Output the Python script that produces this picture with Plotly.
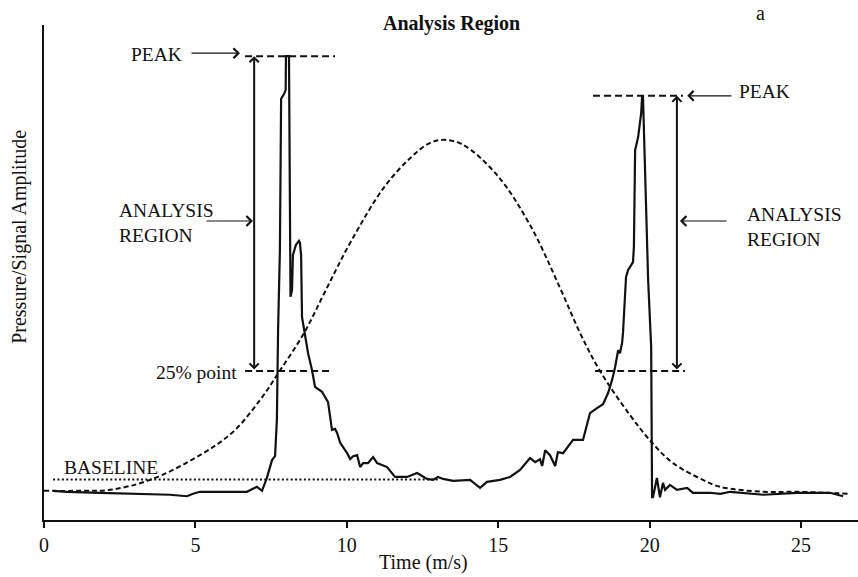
import plotly.graph_objects as go

# ---------------- data ----------------
signal_t = [0.30, 0.76, 1.85, 2.94, 4.16, 4.72, 4.92, 5.15, 6.70, 7.03, 7.20, 7.36, 7.53, 7.63,
            7.69, 7.73, 7.79, 7.83, 7.93, 7.98, 7.99, 8.09, 8.12, 8.14, 8.19, 8.22, 8.32, 8.42,
            8.45, 8.49, 8.52, 8.62, 8.72, 8.85, 8.95, 9.18, 9.38, 9.51, 9.61, 9.68, 9.78, 10.01,
            10.11, 10.21, 10.34, 10.44, 10.54, 10.70, 10.87, 11.00, 11.33, 11.59, 11.99, 12.32,
            12.65, 12.85, 13.01, 13.18, 13.51, 14.07, 14.40, 14.63, 15.06, 15.39, 15.72, 16.05,
            16.22, 16.38, 16.45, 16.55, 16.71, 16.88, 16.97, 17.14, 17.47, 17.80, 18.03, 18.26,
            18.46, 18.63, 18.76, 18.86, 18.96, 19.02, 19.09, 19.12, 19.19, 19.22, 19.29, 19.45,
            19.48, 19.52, 19.62, 19.72, 19.75, 19.78, 19.95, 20.05, 20.08, 20.11, 20.24, 20.34,
            20.44, 20.51, 20.67, 20.90, 21.24, 21.43, 21.99, 22.33, 22.66, 23.75, 24.87, 25.96,
            26.39]
signal_a = [5.9, 5.7, 5.5, 5.3, 5.1, 4.8, 5.3, 5.7, 5.7, 6.7, 5.9, 8.5, 12.1, 12.9,
            20.2, 38.4, 54.5, 85.1, 86.1, 86.9, 93.7, 93.7, 52.5, 45.1, 46.5, 53.5, 55.6, 56.4,
            56.0, 53.5, 41.0, 37.0, 33.7, 30.3, 26.9, 25.9, 23.8, 18.2, 18.4, 17.6, 15.6, 13.5,
            12.3, 12.9, 13.1, 10.7, 11.5, 11.5, 12.7, 11.5, 10.7, 8.7, 8.7, 9.5,
            8.3, 8.1, 8.7, 8.3, 7.9, 8.1, 6.5, 7.7, 8.1, 8.7, 10.1, 12.5,
            11.7, 12.3, 10.9, 14.1, 13.1, 10.9, 13.7, 13.5, 16.2, 16.2, 21.6, 22.6,
            23.4, 25.7, 28.3, 30.9, 34.3, 33.7, 35.8, 37.8, 45.1, 49.1, 50.5, 52.1,
            55.2, 74.7, 77.4, 82.2, 85.5, 85.5, 48.5, 34.9, 4.6, 4.6, 8.5, 4.6,
            7.5, 6.1, 7.1, 6.1, 6.5, 5.5, 5.5, 5.3, 5.7, 5.1, 5.5, 5.5,
            4.8]

pulse_t = [0.00, 1.19, 2.18, 3.50, 5.15, 6.24, 7.13, 7.76, 8.59, 9.31, 10.13, 11.24, 12.09,
           12.75, 13.24, 13.84, 14.96, 16.05, 17.04, 17.70, 18.36, 19.35, 20.08, 20.77, 21.76,
           22.33, 23.75, 24.87, 26.55]
pulse_a = [5.9, 5.9, 6.1, 8.1, 13.1, 17.8, 24.2, 29.9, 37.8, 46.5, 56.2, 67.3, 73.1,
           76.2, 76.8, 75.8, 69.7, 59.6, 46.9, 37.8, 30.1, 21.2, 15.6, 11.5, 8.1,
           6.7, 5.7, 5.7, 5.3]

baseline_t = [0.30, 13.0]
baseline_level = 8.2

peak1_level = 93.7
peak2_level = 85.7
point25_level = 30.1
peak1_span = [6.64, 9.61]
peak2_span = [18.13, 21.10]
p25_left_span = [6.64, 9.54]
p25_right_span = [18.20, 21.17]
region1_x = 6.94
region2_x = 20.90

x_ticks = [0, 5, 10, 15, 20, 25]
x_range = [0, 26.88]
y_range = [0, 100]

FONT = "Liberation Serif, Times New Roman, serif"
INK = "#111111"

fig = go.Figure()

fig.add_trace(go.Scatter(x=baseline_t, y=[baseline_level, baseline_level], mode="lines",
                         line=dict(color=INK, width=2, dash="2px,2.4px"), hoverinfo="skip"))
fig.add_trace(go.Scatter(x=pulse_t, y=pulse_a, mode="lines",
                         line=dict(color=INK, width=2, dash="5px,3px", shape="spline", smoothing=1.0),
                         hoverinfo="skip"))
fig.add_trace(go.Scatter(x=signal_t, y=signal_a, mode="lines",
                         line=dict(color=INK, width=2.2), hoverinfo="skip"))

# dashed level lines
for span, lvl in [(peak1_span, peak1_level), (peak2_span, peak2_level),
                  (p25_left_span, point25_level), (p25_right_span, point25_level)]:
    fig.add_trace(go.Scatter(x=span, y=[lvl, lvl], mode="lines",
                             line=dict(color=INK, width=2, dash="7px,4px"), hoverinfo="skip"))

ann = []

def arrow(x, y, ax, ay, width, size, double=False):
    d = dict(x=x, y=y, ax=ax, ay=ay, xref="x", yref="y", axref="x", ayref="y",
             text="", showarrow=True, arrowhead=4, arrowsize=size, arrowwidth=width,
             arrowcolor=INK)
    if double:
        d.update(arrowside="end+start", startarrowhead=4, startarrowsize=size)
    ann.append(d)

# horizontal pointer arrows
arrow(6.47, 94.3, 4.82, 94.3, 1.2, 1.6)
arrow(21.24, peak2_level, 22.75, peak2_level, 1.2, 1.6)
arrow(6.90, 60.4, 5.32, 60.4, 1.2, 1.6)
arrow(21.00, 60.4, 22.59, 60.4, 1.2, 1.6)
# vertical double arrows
arrow(region1_x, peak1_level, region1_x, point25_level, 2, 0.9, double=True)
arrow(region2_x, peak2_level, region2_x, point25_level, 2, 0.9, double=True)

lab = dict(size=19.5, family=FONT, color=INK)

def text(x, y, s, xanchor, align="left"):
    ann.append(dict(x=x, y=y, xref="x", yref="y", text=s, showarrow=False,
                    xanchor=xanchor, yanchor="middle", align=align, font=lab))

text(4.62, 94.1, "PEAK", "right")
text(22.89, 86.5, "PEAK", "left")
text(2.41, 60.0, "ANALYSIS<br>REGION", "left")
text(23.15, 59.1, "ANALYSIS<br>REGION", "left")
text(6.44, 29.9, "25% point", "right")
text(0.59, 10.7, "BASELINE", "left")

ann.append(dict(x=0.5, y=1.004, xref="paper", yref="paper", text="<b>Analysis Region</b>",
                showarrow=False, xanchor="center", yanchor="middle",
                font=dict(size=20, family=FONT, color=INK)))
ann.append(dict(x=0.88, y=1.024, xref="paper", yref="paper", text="a",
                showarrow=False, xanchor="center", yanchor="middle",
                font=dict(size=20, family=FONT, color=INK)))
ann.append(dict(x=0.466, y=-0.085, xref="paper", yref="paper", text="Time (m/s)",
                showarrow=False, xanchor="center", yanchor="middle",
                font=dict(size=20, family=FONT, color=INK)))
ann.append(dict(x=-0.0295, y=0.572, xref="paper", yref="paper", text="Pressure/Signal Amplitude",
                showarrow=False, xanchor="center", yanchor="middle", textangle=-90,
                font=dict(size=20, family=FONT, color=INK)))

fig.update_layout(
    width=858, height=577,
    margin=dict(l=44, r=0, t=25, b=57),
    paper_bgcolor="white", plot_bgcolor="white",
    showlegend=False,
    annotations=ann,
    font=dict(family=FONT, color=INK, size=20),
    xaxis=dict(range=x_range, tickvals=x_ticks, ticks="outside", ticklen=6, tickwidth=2,
               tickcolor=INK, showline=True, linewidth=2, linecolor=INK, showgrid=False,
               zeroline=False, tickfont=dict(size=20, family=FONT, color=INK)),
    yaxis=dict(range=y_range, showline=True, linewidth=2, linecolor=INK, showgrid=False,
               zeroline=False, showticklabels=False, ticks=""),
)

fig.write_html("out.html")
